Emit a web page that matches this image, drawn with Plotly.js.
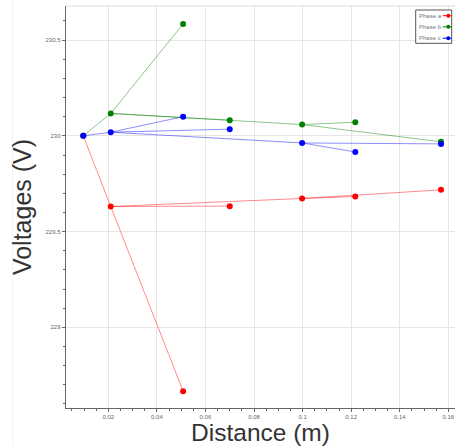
<!DOCTYPE html>
<html>
<head>
<meta charset="utf-8">
<script src="https://cdn.plot.ly/plotly-3.0.1.min.js"></script>
<style>html,body{margin:0;padding:0;background:#fff;}#chart{width:456px;height:446px;}</style>
</head>
<body>
<div id="chart"></div>
<script>
// Node distances (m)
const distances = [0.0097, 0.021, 0.0508, 0.070, 0.0998, 0.1217, 0.157];
// Node voltages per phase (V)
const phaseA = [230.0, 229.631, 228.667, 229.633, 229.673, 229.683, 229.718];
const phaseB = [230.0, 230.117, 230.584, 230.082, 230.059, 230.071, 229.969];
const phaseC = [230.0, 230.019, 230.100, 230.035, 229.963, 229.916, 229.958];
// Line segments between nodes (from, to)
const edgeFrom = [0, 1, 1, 1, 4, 4];
const edgeTo   = [1, 2, 3, 4, 5, 6];
const seriesNames = ['Phase a', 'Phase b', 'Phase c'];
const xTicks = [0.02, 0.04, 0.06, 0.08, 0.1, 0.12, 0.14, 0.16];
const yTicks = [229, 229.5, 230, 230.5];

const lineColors = ['rgba(255,0,0,0.45)', 'rgba(0,128,0,0.45)', 'rgba(0,0,255,0.45)'];
const markerColors = ['#ff0000', '#008000', '#0000ff'];

function buildEdges(vals) {
  const x = [], y = [];
  for (let i = 0; i < edgeFrom.length; i++) {
    x.push(distances[edgeFrom[i]], distances[edgeTo[i]], null);
    y.push(vals[edgeFrom[i]], vals[edgeTo[i]], null);
  }
  return {x, y};
}

const phases = [phaseA, phaseB, phaseC];
const traces = [];
phases.forEach((vals, k) => {
  const e = buildEdges(vals);
  traces.push({x: e.x, y: e.y, mode: 'lines', type: 'scatter', name: seriesNames[k],
    line: {color: lineColors[k], width: 1}, showlegend: false, hoverinfo: 'skip'});
});
phases.forEach((vals, k) => {
  traces.push({x: distances, y: vals, mode: 'markers', type: 'scatter', name: seriesNames[k],
    marker: {color: markerColors[k], size: 6}, showlegend: false});
});

// plot area in pixels
const L = 66, R = 455, T = 6, B = 407.7, W = 456, H = 446;
const px = v => (v - L) / (R - L);
const py = v => (B - v) / (B - T);

const shapes = [
  {type: 'line', xref: 'paper', yref: 'paper', x0: 0, x1: 1, y0: 1, y1: 1, line: {color: '#dddddd', width: 1}},
  {type: 'line', xref: 'paper', yref: 'paper', x0: px(12.7), x1: px(12.7), y0: py(0), y1: py(446), line: {color: '#f2f2f2', width: 1}},
  {type: 'rect', xref: 'paper', yref: 'paper', x0: px(415.7), x1: px(451.7), y0: py(10), y1: py(43.3),
    line: {color: '#555555', width: 1}, fillcolor: 'rgba(255,255,255,0.9)'}
];
const annotations = [];
const legY = [15.7, 26.8, 38.2];
seriesNames.forEach((n, k) => {
  annotations.push({xref: 'paper', yref: 'paper', x: px(417.5), y: py(legY[k]), xanchor: 'left', yanchor: 'middle',
    text: n, showarrow: false, borderpad: 0, font: {family: 'Liberation Sans, Arial, sans-serif', size: 6, color: '#777777'}});
  shapes.push({type: 'line', xref: 'paper', yref: 'paper', x0: px(442.7), x1: px(451.7), y0: py(legY[k]), y1: py(legY[k]),
    line: {color: markerColors[k], width: 1}});
  shapes.push({type: 'circle', xref: 'paper', yref: 'paper', x0: px(446.3), x1: px(450.3), y0: py(legY[k] + 2), y1: py(legY[k] - 2),
    fillcolor: markerColors[k], line: {color: markerColors[k], width: 0}});
});

const layout = {
  width: W, height: H,
  margin: {l: L, r: W - R, t: T, b: H - B},
  paper_bgcolor: '#ffffff', plot_bgcolor: '#ffffff',
  showlegend: false,
  font: {family: 'Liberation Sans, Arial, sans-serif', color: '#444444'},
  xaxis: {
    range: [0.00258, 0.16276], tickvals: xTicks, ticktext: xTicks.map(String),
    showgrid: true, gridcolor: '#e6e6e6', gridwidth: 1, zeroline: false,
    showline: true, linecolor: '#666666', linewidth: 1,
    ticks: 'outside', ticklen: 3, tickcolor: '#666666',
    minor: {dtick: 0.005, tick0: 0, ticks: 'outside', ticklen: 2, tickcolor: '#666666', showgrid: false},
    tickfont: {size: 6, color: '#666666'},
    title: {text: 'Distance (m)', font: {size: 24.5, color: '#333333'}, standoff: 6}
  },
  yaxis: {
    range: [228.579, 230.678], tickvals: yTicks, ticktext: yTicks.map(String),
    showgrid: true, gridcolor: '#e6e6e6', gridwidth: 1, zeroline: false,
    showline: true, linecolor: '#666666', linewidth: 1.3,
    ticks: 'outside', ticklen: 3, tickcolor: '#666666',
    minor: {dtick: 0.1, tick0: 0, ticks: 'outside', ticklen: 2, tickcolor: '#666666', showgrid: false},
    tickfont: {size: 6, color: '#666666'},
    title: {text: 'Voltages (V)', font: {size: 25, color: '#333333'}, standoff: 6}
  },
  shapes: shapes,
  annotations: annotations
};

Plotly.newPlot('chart', traces, layout, {staticPlot: true, displayModeBar: false});
</script>
</body>
</html>
